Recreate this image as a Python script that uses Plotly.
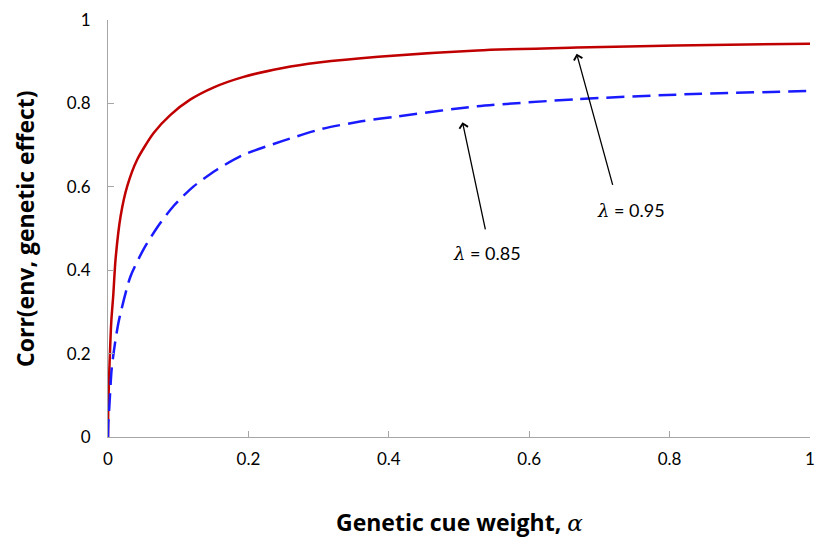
import plotly.graph_objects as go

# Data
alpha_095 = [0, 0.0005, 0.0019, 0.0047, 0.0075, 0.0108, 0.018, 0.0273, 0.0415, 0.065,
             0.0886, 0.117, 0.150, 0.192, 0.249, 0.30, 0.385, 0.526, 0.668, 0.809, 1.0]
corr_095 = [0, 0.08, 0.16, 0.277, 0.34, 0.427, 0.530, 0.601, 0.665, 0.729,
            0.772, 0.809, 0.838, 0.863, 0.885, 0.898, 0.912, 0.927, 0.934, 0.939, 0.943]

alpha_085 = [0, 0.0004, 0.0019, 0.0052, 0.0100, 0.0156, 0.032, 0.051, 0.0698, 0.0934,
             0.122, 0.155, 0.192, 0.249, 0.305, 0.361, 0.413, 0.526, 0.668, 0.809, 1.0]
corr_085 = [0, 0.033, 0.072, 0.163, 0.225, 0.280, 0.385, 0.451, 0.502, 0.554,
            0.601, 0.641, 0.676, 0.710, 0.739, 0.757, 0.769, 0.793, 0.810, 0.821, 0.830]

tick_vals = [0, 0.2, 0.4, 0.6, 0.8, 1]
tick_text = ["0", "0.2", "0.4", "0.6", "0.8", "1"]

FONT = "Lato, 'Open Sans', sans-serif"
TITLE_FONT = "'Open Sans', Lato, sans-serif"
AXIS_COLOR = "#A6A6A6"

fig = go.Figure()
fig.add_trace(go.Scatter(x=alpha_095, y=corr_095, mode="lines",
                         line=dict(color="#C00000", width=2.5, shape="spline", smoothing=0.7),
                         cliponaxis=False, showlegend=False))
fig.add_trace(go.Scatter(x=alpha_085, y=corr_085, mode="lines",
                         line=dict(color="#1A1AFF", width=2.5, dash="18px,8px",
                                   shape="spline", smoothing=0.7),
                         cliponaxis=False, showlegend=False))

axis_common = dict(range=[0, 1], tickvals=tick_vals, ticktext=tick_text,
                   showgrid=False, zeroline=False, showline=True,
                   linecolor=AXIS_COLOR, linewidth=1, ticks="inside",
                   ticklen=6, tickcolor=AXIS_COLOR, tickwidth=1,
                   tickfont=dict(family=FONT, size=17, color="#000000"))

fig.update_xaxes(**axis_common, ticklabelstandoff=7)
fig.update_yaxes(**axis_common, ticklabelstandoff=13)

lam = "<i><span style='font-family:DejaVu Serif'>λ</span></i>"
annotations = [
    # arrows
    dict(x=0.6676, y=0.919, ax=0.7195, ay=0.601, xref="x", yref="y", axref="x", ayref="y",
         text="", showarrow=True, arrowhead=4, arrowsize=1.3, arrowwidth=1.3, arrowcolor="#000000"),
    dict(x=0.505, y=0.755, ax=0.538, ay=0.4945, xref="x", yref="y", axref="x", ayref="y",
         text="", showarrow=True, arrowhead=4, arrowsize=1.3, arrowwidth=1.3, arrowcolor="#000000"),
    # labels
    dict(x=0.745, y=0.545, xref="x", yref="y", showarrow=False,
         text=lam + " = 0.95", font=dict(family=FONT, size=18, color="#000000")),
    dict(x=0.5405, y=0.441, xref="x", yref="y", showarrow=False,
         text=lam + " = 0.85", font=dict(family=FONT, size=18, color="#000000")),
    # axis titles
    dict(x=0.5, y=-0.204, xref="paper", yref="paper", showarrow=False,
         xanchor="center", yanchor="middle",
         text="<b>Genetic cue weight, </b><i><span style='font-family:DejaVu Serif'>α</span></i>",
         font=dict(family=TITLE_FONT, size=23, color="#000000")),
    dict(x=-0.119, y=0.5, xref="paper", yref="paper", showarrow=False, textangle=-90,
         xanchor="center", yanchor="middle",
         text="<b>Corr(env, genetic effect)</b>",
         font=dict(family=TITLE_FONT, size=23, color="#000000")),
]

fig.update_layout(width=824, height=547,
                  margin=dict(l=108, r=9, t=15, b=110),
                  plot_bgcolor="white", paper_bgcolor="white",
                  annotations=annotations, showlegend=False)

fig.write_html("out.html")
